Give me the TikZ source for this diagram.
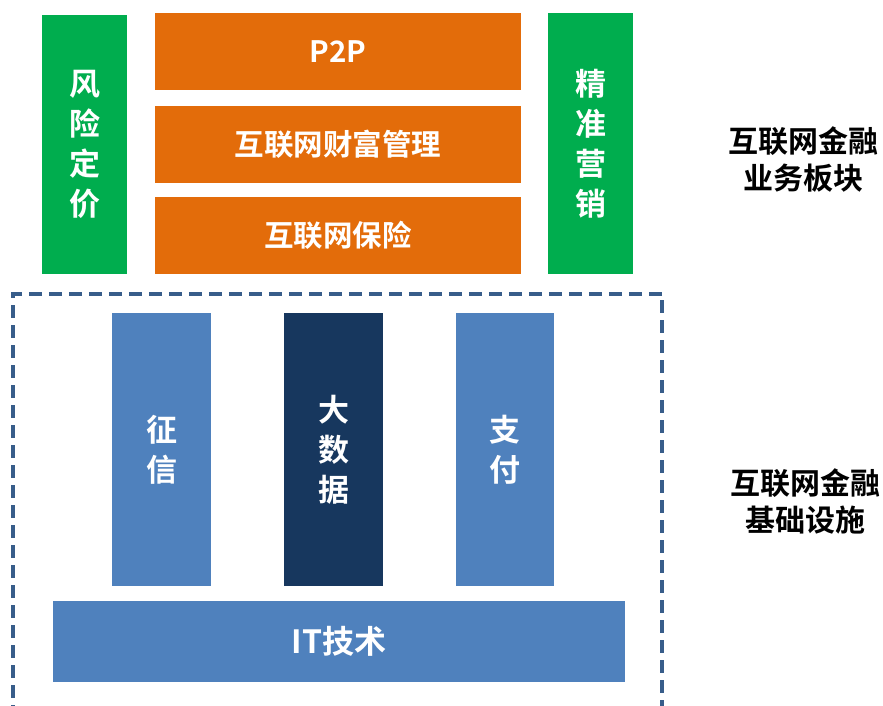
\documentclass[tikz,border=0pt]{standalone}
\usepackage{fontspec}
\newfontfamily\cjk{Noto Sans CJK SC}[BoldFont={* Bold}]
\definecolor{grn}{RGB}{0,173,78}
\definecolor{org}{RGB}{227,108,10}
\definecolor{blu}{RGB}{79,129,189}
\definecolor{nav}{RGB}{23,55,94}
\definecolor{dsh}{RGB}{56,93,138}
\begin{document}
\begin{tikzpicture}[x=1pt,y=-1pt,
  box/.style={inner sep=0pt, draw=none, text=white, font=\cjk\bfseries, align=center},
  vtext/.style={font=\cjk\bfseries\fontsize{31}{40}\selectfont},
  htext/.style={font=\cjk\bfseries\fontsize{29.5}{32}\selectfont},
  lbl/.style={font=\cjk\bfseries\fontsize{30}{37}\selectfont, align=center, text=black}]
\useasboundingbox (0,0) rectangle (883,705);
\begin{scope}
\clip (0,0) rectangle (883,705);
% dashed frame
\draw[dsh, line width=3.5pt, dash pattern=on 13pt off 7pt] (662,294) -- (13,294) -- (13,720);
\draw[dsh, line width=3.5pt, dash pattern=on 13pt off 7pt] (662,300) -- (662,720);
\end{scope}
% business boxes
\node[box, fill=grn, vtext, minimum width=85pt, minimum height=259pt] (risk) at (84.5,144.5) {风\\险\\定\\价};
\node[box, fill=grn, vtext, minimum width=85pt, minimum height=261pt] (mkt) at (590.5,143.5) {精\\准\\营\\销};
\node[box, fill=org, htext, minimum width=366pt, minimum height=77pt] (p2p) at (338,51.5) {P2P};
\node[box, fill=org, htext, minimum width=366pt, minimum height=77pt] (wm) at (338,144.5) {互联网财富管理};
\node[box, fill=org, htext, minimum width=366pt, minimum height=77pt] (ins) at (338,235.5) {互联网保险};
% infrastructure
\node[box, fill=blu, vtext, minimum width=99pt, minimum height=273pt] (zx) at (161.5,449.5) {征\\信};
\node[box, fill=nav, vtext, minimum width=99pt, minimum height=273pt] (bd) at (333.5,449.5) {大\\数\\据};
\node[box, fill=blu, vtext, minimum width=98pt, minimum height=273pt] (pay) at (505,449.5) {支\\付};
\node[box, fill=blu, font=\cjk\bfseries\fontsize{32}{34}\selectfont, minimum width=572pt, minimum height=81pt] (it) at (339,641.5) {IT技术};
% labels
\node[lbl] (l1) at (803,160) {互联网金融\\业务板块};
\node[lbl] (l2) at (805,501) {互联网金融\\基础设施};
\end{tikzpicture}
\end{document}
